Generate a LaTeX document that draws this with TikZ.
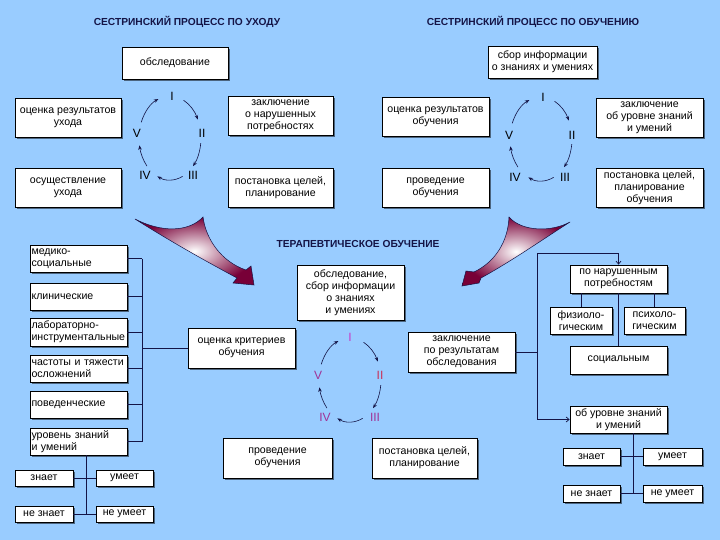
\documentclass[tikz,border=0pt]{standalone}
\usepackage{fontspec}
\setmainfont{Liberation Sans}
\usetikzlibrary{arrows.meta,shadows,calc}
\definecolor{bg}{RGB}{153,204,255}
\definecolor{ln}{RGB}{20,20,70}
\definecolor{maroon}{RGB}{120,0,55}
\definecolor{nA}{RGB}{200,60,200}
\definecolor{nB}{RGB}{200,50,90}
\definecolor{nC}{RGB}{160,50,150}
\newcommand\bxnode[7][]{%
  \pgfmathsetmacro\bxw{#5-#3}%
  \pgfmathsetmacro\bxh{#6-#4}%
  \pgfmathsetmacro\bxx{(#3+#5)/2}%
  \pgfmathsetmacro\bxy{(#4+#6)/2}%
  \node[box,minimum width=\bxw pt,minimum height=\bxh pt,#1] (#2) at (\bxx,\bxy) {#7};%
}
\newcommand\cycarcs[1]{%
  \foreach \a/\b in {64/26,-7/-42,-66/-114,-138/-170,158/112}
    \draw[cycarrow] ([shift={(\a:31pt and 42pt)}]#1) arc[start angle=\a,end angle=\b,x radius=31pt,y radius=42pt];%
}
\begin{document}
\begin{tikzpicture}[x=1pt,y=-1pt,
  box/.style={draw=black,fill=white,line width=0.7pt,align=center,
    font=\fontsize{10.6}{12}\selectfont,inner sep=1.2pt,
    drop shadow={shadow xshift=1.8pt,shadow yshift=-1.8pt,fill=black,opacity=0.5}},
  lbox/.style={align=left,text width=94pt,inner xsep=1.5pt},
  ttl/.style={font=\fontsize{10.2}{12}\selectfont\bfseries,text=ln},
  num/.style={font=\fontsize{12}{13}\selectfont,text=black},
  con/.style={draw=ln,line width=0.7pt},
  cycarrow/.style={draw=ln,line width=0.6pt,-{Stealth[length=4.5pt,width=3.5pt]}},
  bigarrow/.style={draw=ln,line width=0.5pt,shade,shading=radial,inner color=white,outer color=maroon}
]
\useasboundingbox[fill=bg] (0,0) rectangle (720,540);

% big curved arrows
\path[bigarrow] (135,219) .. controls (160,232) and (188,233) .. (203,217)
  .. controls (206,240) and (222,262) .. (246,270)
  -- (251,266) -- (254,285) -- (233,283) -- (237,278)
  .. controls (200,258) and (165,238) .. (135,219) -- cycle;
\path[bigarrow] (570,222) .. controls (552,232) and (522,232) .. (509,217)
  .. controls (508,242) and (495,262) .. (474,272)
  -- (466,271) -- (462,286) -- (479,283) -- (481,278)
  .. controls (510,262) and (545,238) .. (570,222) -- cycle;

% titles
\node[ttl] (t1) at (187,22) {СЕСТРИНСКИЙ ПРОЦЕСС ПО УХОДУ};
\node[ttl] (t2) at (533,22) {СЕСТРИНСКИЙ ПРОЦЕСС ПО ОБУЧЕНИЮ};
\node[ttl] (t3) at (358,244) {ТЕРАПЕВТИЧЕСКОЕ ОБУЧЕНИЕ};

% top-left
\bxnode{a1}{122}{47}{228}{79}{обследование}
\bxnode{a2}{15}{98}{121}{137}{оценка результатов\\ухода}
\bxnode{a3}{228}{96}{333}{135}{заключение\\о нарушенных\\потребностях}
\bxnode{a4}{15}{168}{121}{207}{осуществление\\ухода}
\bxnode{a5}{228}{168}{333}{207}{постановка целей,\\планирование}
\node[num] (aI) at (172,96) {I};
\node[num] (aII) at (202,133) {II};
\node[num] (aIII) at (193,175) {III};
\node[num] (aIV) at (145,175) {IV};
\node[num] (aV) at (137,133) {V};
\coordinate (ca) at (170,138);
\cycarcs{ca}

% top-right
\bxnode{b1}{488}{46}{597}{78}{сбор информации\\о знаниях и умениях}
\bxnode{b2}{382}{97}{489}{136}{оценка результатов\\обучения}
\bxnode{b3}{596}{98}{703}{137}{заключение\\об уровне знаний\\и умений}
\bxnode{b4}{382}{168}{489}{207}{проведение\\обучения}
\bxnode{b5}{596}{168}{703}{207}{постановка целей,\\планирование\\обучения}
\node[num] (bI) at (543,97) {I};
\node[num] (bII) at (572,135) {II};
\node[num] (bIII) at (565,177) {III};
\node[num] (bIV) at (515,177) {IV};
\node[num] (bV) at (509,135) {V};
\coordinate (cb) at (541,139);
\cycarcs{cb}

% middle
\bxnode{m1}{297}{265}{404}{320}{обследование,\\сбор информации\\о знаниях\\и умениях}
\bxnode{m2}{188}{328}{295}{368}{оценка критериев\\обучения}
\bxnode{m3}{408}{332}{515}{372}{заключение\\по результатам\\обследования}
\bxnode{m4}{223}{438}{332}{478}{проведение\\обучения}
\bxnode{m5}{372}{438}{477}{478}{постановка целей,\\планирование}
\node[num,text=nA] (mI) at (350,337) {I};
\node[num,text=nB] (mII) at (380,375) {II};
\node[num,text=nC] (mIII) at (375,417) {III};
\node[num,text=nC] (mIV) at (325,417) {IV};
\node[num,text=nC] (mV) at (318,375) {V};
\coordinate (cm) at (350,380);
\cycarcs{cm}

% left column
\bxnode[lbox]{lb1}{30}{245}{127}{272}{медико-\\социальные}
\bxnode[lbox]{lb2}{30}{283}{127}{310}{клинические}
\bxnode[lbox]{lb3}{30}{318}{127}{346}{лабораторно-\\инструментальные}
\bxnode[lbox]{lb4}{30}{355}{127}{382}{частоты и тяжести\\осложнений}
\bxnode[lbox]{lb5}{30}{391}{127}{418}{поведенческие}
\bxnode[lbox]{lb6}{30}{428}{127}{455}{уровень знаний\\и умений}
\bxnode{zn1}{15}{470}{73}{486}{знает}
\bxnode{um1}{96}{470}{153}{486}{умеет}
\bxnode{nz1}{15}{506}{73}{522}{не знает}
\bxnode{nu1}{96}{506}{153}{522}{не умеет}

\coordinate (lsp) at (142,348);
\foreach \n in {lb1,lb2,lb3,lb4,lb5,lb6}
  \draw[con] (\n.east) -- (\n.east -| lsp);
\draw[con] (lb1.east -| lsp) -- (lb6.east -| lsp);
\draw[con] (lsp) -- (m2.west);
\coordinate (lv) at (86,0);
\draw[con] (lb6.south -| lv) -- (nz1.east -| lv);
\draw[con] (zn1.east) -- (um1.west);
\draw[con] (nz1.east) -- (nu1.west);

% right column
\bxnode{r1}{570}{265}{667}{293}{по нарушенным\\потребностям}
\bxnode{r2}{550}{307}{612}{334}{физиоло-\\гическим}
\bxnode{r3}{624}{307}{685}{334}{психоло-\\гическим}
\bxnode{r4}{570}{346}{667}{374}{социальным}
\bxnode{r5}{570}{406}{667}{433}{об уровне знаний\\и умений}
\bxnode{zn2}{563}{448}{620}{465}{знает}
\bxnode{um2}{643}{448}{702}{465}{умеет}
\bxnode{nz2}{563}{485}{620}{502}{не знает}
\bxnode{nu2}{643}{485}{702}{502}{не умеет}

\coordinate (rtop) at (537,253);
\draw[con] (m3.east) -- (m3.east -| rtop);
\draw[con] (rtop) -- (r5.west -| rtop);
\draw[con,-{Straight Barb[length=3pt,width=5pt]}] (rtop) -- (rtop -| r1.north) -- (r1.north);
\draw[con,-{Straight Barb[length=3pt,width=5pt]}] (r5.west -| rtop) -- (r5.west);
\draw[con] (r2.north) -- (r2.north |- r1.south);
\draw[con] (r3.north) -- (r3.north |- r1.south);
\draw[con] (r1.south) -- (r4.north);
\coordinate (rv) at (633,0);
\draw[con] (r5.south -| rv) -- (nz2.east -| rv);
\draw[con] (zn2.east) -- (um2.west);
\draw[con] (nz2.east) -- (nu2.west);
\end{tikzpicture}
\end{document}
